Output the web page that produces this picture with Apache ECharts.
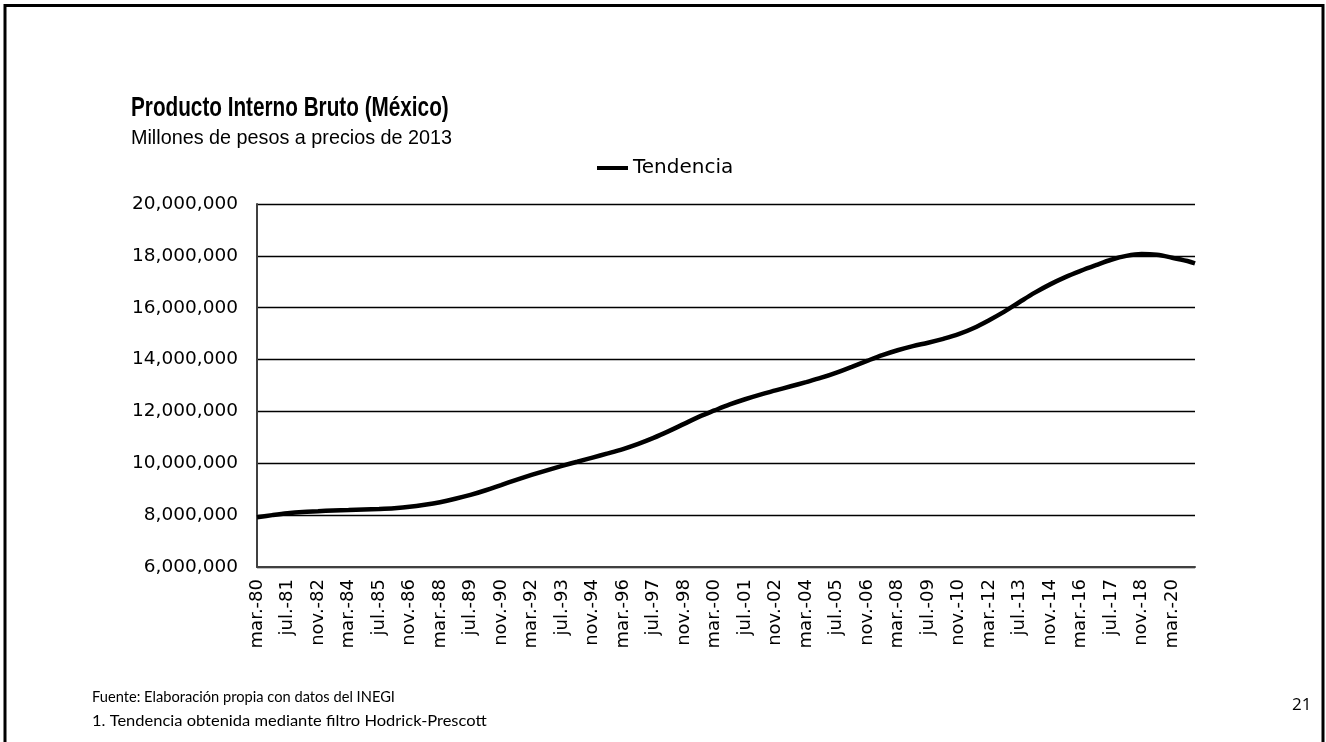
<!DOCTYPE html>
<html>
<head>
<meta charset="utf-8">
<script src="https://cdn.jsdelivr.net/npm/echarts@6/dist/echarts.min.js"></script>
<style>
html,body{margin:0;padding:0;background:#fff;}
#chart{width:1326px;height:742px;}
</style>
</head>
<body>
<div id="chart"></div>
<script>
// Month index counted from mar-80 (monthly series, tendencia HP)
const monthIdx = [0,8,16,24,32,40,48,56,64,72,80,88,96,104,112,120,128,136,144,152,160,168,176,184,192,200,208,216,224,232,240,248,256,264,272,280,288,296,304,312,320,328,336,344,352,360,368,376,384,392,400,408,416,424,432,440,448,456,464,472,480,488,492];
// Tendencia del PIB (millones de pesos a precios de 2013)
const pibTrend = [7920000,8000000,8070000,8120000,8150000,8180000,8200000,8220000,8240000,8270000,8320000,8400000,8500000,8630000,8780000,8960000,9160000,9360000,9550000,9730000,9900000,10060000,10220000,10380000,10550000,10750000,10980000,11240000,11520000,11800000,12040000,12270000,12470000,12650000,12810000,12970000,13130000,13300000,13500000,13720000,13950000,14170000,14360000,14520000,14650000,14800000,14980000,15220000,15520000,15850000,16220000,16580000,16900000,17180000,17420000,17640000,17850000,18000000,18070000,18040000,17930000,17800000,17710000];
// Etiquetas del eje X (cada 16 meses)
const xTickLabels = ['mar.-80','jul.-81','nov.-82','mar.-84','jul.-85','nov.-86','mar.-88','jul.-89','nov.-90','mar.-92','jul.-93','nov.-94','mar.-96','jul.-97','nov.-98','mar.-00','jul.-01','nov.-02','mar.-04','jul.-05','nov.-06','mar.-08','jul.-09','nov.-10','mar.-12','jul.-13','nov.-14','mar.-16','jul.-17','nov.-18','mar.-20'];
const seriesName = 'Tendencia';
const chartTitle = 'Producto Interno Bruto (México)';
const chartSubtitle = 'Millones de pesos a precios de 2013';
const note1 = 'Fuente: Elaboración propia con datos del INEGI';
const note2 = '1. Tendencia obtenida mediante filtro Hodrick-Prescott';
const pageNum = '21';

const data = monthIdx.map((m, i) => [m, pibTrend[i]]);
const chart = echarts.init(document.getElementById('chart'));
const axisFont = 'DejaVu Sans';
chart.setOption({
  animation: false,
  backgroundColor: '#fff',
  grid: {left: 257, right: 131, top: 204, bottom: 175, containLabel: false},
  legend: {
    data: [seriesName],
    left: 597, top: 158, padding: 0,
    icon: 'rect', itemWidth: 31, itemHeight: 4,
    textStyle: {fontFamily: axisFont, fontSize: 20, color: '#000'}
  },
  xAxis: {
    type: 'value', min: 0, max: 492, interval: 16,
    axisLine: {show: true, lineStyle: {color: '#404040', width: 2}},
    axisTick: {show: false},
    splitLine: {show: false},
    axisLabel: {
      rotate: 90, margin: 12, color: '#000', fontFamily: axisFont, fontSize: 18,
      hideOverlap: false, showMaxLabel: false,
      formatter: v => (v % 16 === 0 ? (xTickLabels[v / 16] || '') : '')
    }
  },
  yAxis: {
    type: 'value', min: 6000000, max: 20000000, interval: 2000000,
    axisLine: {show: true, lineStyle: {color: '#404040', width: 2}},
    axisTick: {show: false},
    splitLine: {show: true, lineStyle: {color: '#000', width: 1.3}},
    axisLabel: {
      margin: 19, color: '#000', fontFamily: axisFont, fontSize: 18.5,
      formatter: v => v.toLocaleString('en-US')
    }
  },
  series: [{
    name: seriesName, type: 'line', data: data,
    smooth: 0.35, showSymbol: false, symbol: 'none',
    lineStyle: {color: '#000', width: 4.5}, itemStyle: {color: '#000'}
  }],
  graphic: [
    {type: 'rect', shape: {x: 5, y: 5.5, width: 1318, height: 800}, style: {fill: 'none', stroke: '#000', lineWidth: 3}, silent: true},
    {type: 'text', x: 131, y: 94, scaleX: 0.74, style: {text: chartTitle, font: 'bold 28px "Liberation Sans", sans-serif', fill: '#000'}},
    {type: 'text', left: 131, top: 129, style: {text: chartSubtitle, font: '19.8px "Liberation Sans", sans-serif', fill: '#000'}},
    {type: 'text', x: 92, y: 689, scaleX: 0.916, style: {text: note1, font: '16px Lato, sans-serif', fill: '#000'}},
    {type: 'text', x: 92, y: 713, scaleX: 1.03, style: {text: note2, font: '16px Lato, sans-serif', fill: '#000'}},
    {type: 'text', left: 1292, top: 697, style: {text: pageNum, font: '17px "Open Sans", sans-serif', fill: '#000'}}
  ]
});
</script>
</body>
</html>
